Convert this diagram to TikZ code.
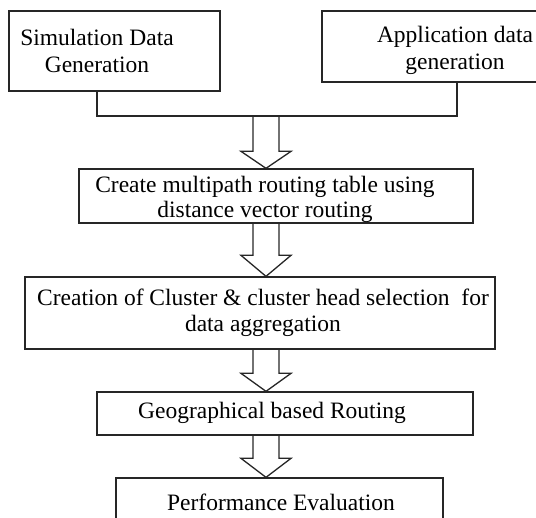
\documentclass[tikz,border=0pt]{standalone}
\usepackage{fontspec}
\setmainfont{Liberation Serif}
\usetikzlibrary{calc}
\newcommand\harrow[3]{\draw[ln] let \p1=(#1), \p2=(#2) in
  (\x1-13pt,\y1) -- (\x1-13pt,\y2+#3) -- (\x1-25pt,\y2+#3) -- (\x1,\y2)
  -- (\x1+25pt,\y2+#3) -- (\x1+13pt,\y2+#3) -- (\x1+13pt,\y1);}
\begin{document}
\begin{tikzpicture}[x=1pt,y=-1pt,
  ln/.style={line width=1.3pt, draw=black!85, line join=miter},
  box/.style={ln, rectangle, inner sep=0pt},
  txt/.style={font=\fontsize{23.5}{27}\selectfont, align=center, inner sep=0pt}]
\useasboundingbox (0,0) rectangle (536,518);
\clip (0,0) rectangle (536,518);
\node[box, minimum width=211pt, minimum height=80pt] (b1) at (114.5,51) {};
\node[box, minimum width=262pt, minimum height=71pt] (b2) at (453,46.5) {};
\node[box, minimum width=394pt, minimum height=54pt] (b3) at (276,196) {};
\node[box, minimum width=470pt, minimum height=72pt] (b4) at (260,313) {};
\node[box, minimum width=376pt, minimum height=43pt] (b5) at (285,413.5) {};
\node[box, minimum width=327pt, minimum height=62pt] (b6) at (279.5,509) {};
\node[txt] (t1) at (97,51) {Simulation Data\\Generation};
\node[txt] (t2) at (455,50) {Application data\\generation};
\node[txt, font=\fontsize{23.5}{25}\selectfont] (t3) at (265,199.5) {Create multipath routing table using\\distance vector routing};
\node[txt, font=\fontsize{23.5}{26}\selectfont] (t4) at (263,313) {Creation of Cluster \& cluster head selection \ for\\data aggregation};
\node[txt] (t5) at (272,413) {Geographical based Routing};
\node[txt] (t6) at (281,502) {Performance Evaluation};
\coordinate (c1) at (97,116);
\coordinate (c2) at (457,116);
\coordinate (j) at (266,116);
\coordinate (ax) at (266,0);
\draw[ln] (c1 |- b1.south) -- (c1) -- (c2) -- (c2 |- b2.south);
\harrow{j}{ax |- b3.north}{17pt}
\harrow{ax |- b3.south}{ax |- b4.north}{21pt}
\harrow{ax |- b4.south}{ax |- b5.north}{18pt}
\harrow{ax |- b5.south}{ax |- b6.north}{19pt}
\end{tikzpicture}
\end{document}
